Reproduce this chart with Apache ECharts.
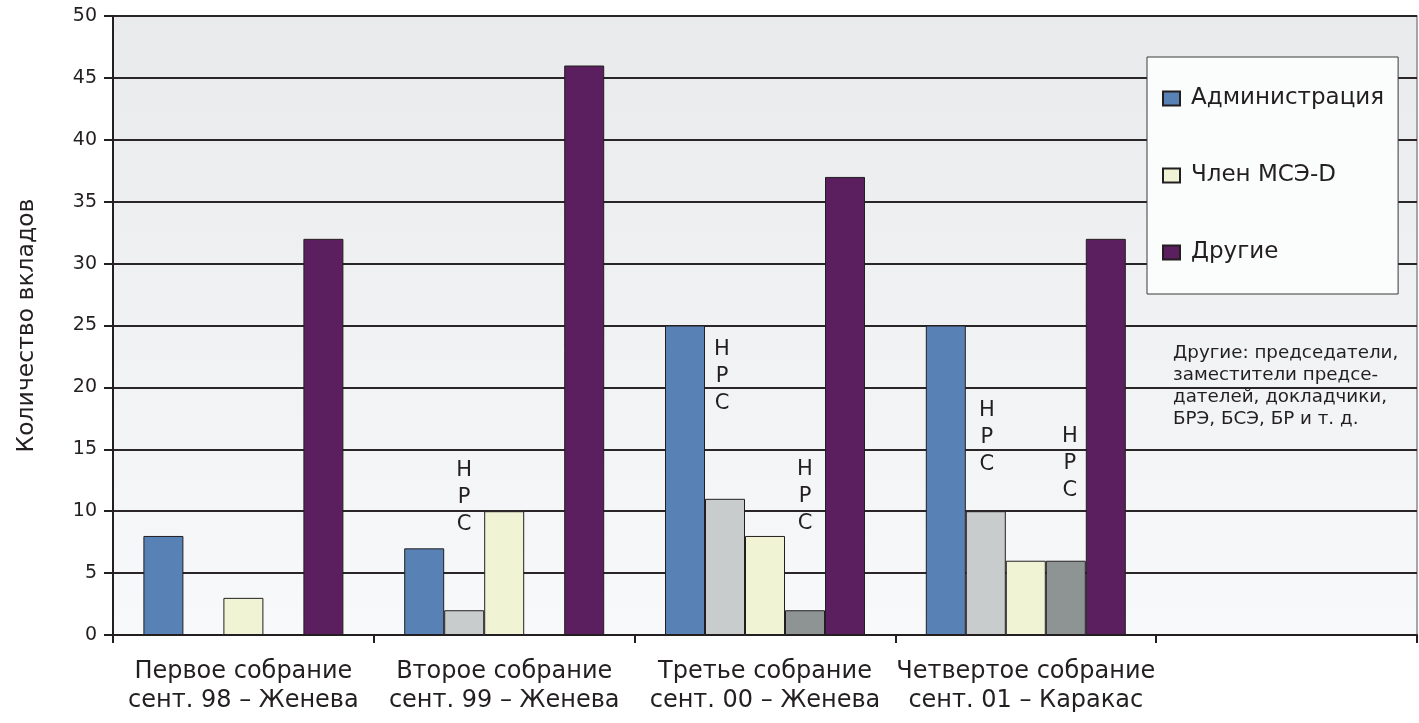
<!DOCTYPE html>
<html>
<head>
<meta charset="utf-8">
<script src="https://cdn.jsdelivr.net/npm/echarts@6/dist/echarts.min.js"></script>
<style>
html,body{margin:0;padding:0;background:#fff;}
#chart{width:1419px;height:723px;}
</style>
</head>
<body>
<div id="chart"></div>
<script>
// ---- data ----
var categories = [
  'Первое собрание\nсент. 98 – Женева',
  'Второе собрание\nсент. 99 – Женева',
  'Третье собрание\nсент. 00 – Женева',
  'Четвертое собрание\nсент. 01 – Каракас',
  ''
];
var seriesNames = ['Администрация', 'Администрация НРС', 'Член МСЭ-D', 'Член МСЭ-D НРС', 'Другие'];
var adminValues   = [8, 7, 25, 25, null];
var adminLdc      = [null, 2, 11, 10, null];
var memberValues  = [3, 10, 8, 6, null];
var memberLdc     = [null, null, 2, 6, null];
var otherValues   = [32, 46, 37, 32, null];
var ldcLabelText  = 'НРС';
var noteText = 'Другие: председатели,\nзаместители предсе-\nдателей, докладчики,\nБРЭ, БСЭ, БР и т. д.';
var yTicks = [0, 5, 10, 15, 20, 25, 30, 35, 40, 45, 50];

// ---- presentation ----
var FONT = '"DejaVu Sans", sans-serif';
var colors = ['#5882b5', '#c9cccd', '#f1f3d5', '#8e9394', '#5b1e5e'];
// label placement (distance above bar, horizontal nudge) per category index
var ldcAdminLabel  = {1: [72, 0], 2: [82, -3], 3: [33, 1]};
var ldcMemberLabel = {2: [73, 0], 3: [57, 4]};

function withLabels(values, placement) {
  return values.map(function (v, i) {
    if (v == null) return '-';
    var p = placement[i];
    if (!p) return v;
    return {
      value: v,
      label: {
        show: true,
        position: 'top',
        distance: p[0],
        offset: [p[1], 0],
        formatter: ldcLabelText.split('').join('\n'),
        fontFamily: FONT,
        fontSize: 21,
        lineHeight: 27,
        color: '#231f20'
      }
    };
  });
}
function plain(values) {
  return values.map(function (v) { return v == null ? '-' : v; });
}

var seriesData = [
  plain(adminValues),
  withLabels(adminLdc, ldcAdminLabel),
  plain(memberValues),
  withLabels(memberLdc, ldcMemberLabel),
  plain(otherValues)
];

var chart = echarts.init(document.getElementById('chart'), null, {renderer: 'canvas'});
var option = {
  animation: false,
  textStyle: {fontFamily: FONT},
  grid: {
    left: 113, right: 2, top: 16, bottom: 88,
    containLabel: false,
    outerBoundsMode: 'none',
    show: true,
    borderColor: '#8a8a8a',
    borderWidth: 1.5,
    backgroundColor: {
      type: 'linear', x: 0, y: 0, x2: 0, y2: 1,
      colorStops: [{offset: 0, color: '#e8eaeb'}, {offset: 1, color: '#f7f9fa'}]
    }
  },
  legend: {
    data: ['Администрация', 'Член МСЭ-D', 'Другие'],
    orient: 'vertical',
    left: 1147, top: 57,
    padding: [30, 14, 30, 15],
    itemGap: 54,
    itemWidth: 17, itemHeight: 14,
    backgroundColor: '#fbfcfc',
    borderColor: '#3a3a3a',
    borderWidth: 1,
    icon: 'rect',
    textStyle: {fontFamily: FONT, fontSize: 23, color: '#231f20', padding: [0, 0, 0, 6]}
  },
  graphic: [{
    type: 'text',
    left: 1173, top: 342,
    style: {
      text: noteText,
      fontFamily: FONT,
      fontSize: 18.3,
      lineHeight: 22,
      fill: '#231f20'
    }
  }],
  xAxis: {
    type: 'category',
    data: categories,
    axisLine: {lineStyle: {color: '#231f20', width: 2}},
    axisTick: {show: true, length: 8, lineStyle: {color: '#231f20', width: 2}},
    axisLabel: {
      interval: 0,
      margin: 22,
      fontFamily: FONT,
      fontSize: 24,
      lineHeight: 29,
      color: '#231f20'
    }
  },
  yAxis: {
    type: 'value',
    min: 0, max: 50, interval: 5,
    name: 'Количество вкладов',
    nameLocation: 'middle',
    nameGap: 74,
    nameRotate: 90,
    nameTextStyle: {fontFamily: FONT, fontSize: 23.5, color: '#231f20'},
    axisLine: {show: true, lineStyle: {color: '#231f20', width: 2}},
    axisTick: {show: true, length: 9, lineStyle: {color: '#231f20', width: 2}},
    axisLabel: {
      margin: 16,
      fontFamily: FONT,
      fontSize: 19,
      color: '#231f20',
      formatter: function (v) { return yTicks.indexOf(v) >= 0 ? String(v) : ''; }
    },
    splitLine: {lineStyle: {color: '#2a2526', width: 1.8}}
  },
  series: seriesNames.map(function (name, i) {
    return {
      name: name,
      type: 'bar',
      barWidth: 40,
      barGap: '0%',
      data: seriesData[i],
      itemStyle: {color: colors[i], borderColor: '#231f20', borderWidth: 1}
    };
  })
};
chart.setOption(option);
</script>
</body>
</html>
